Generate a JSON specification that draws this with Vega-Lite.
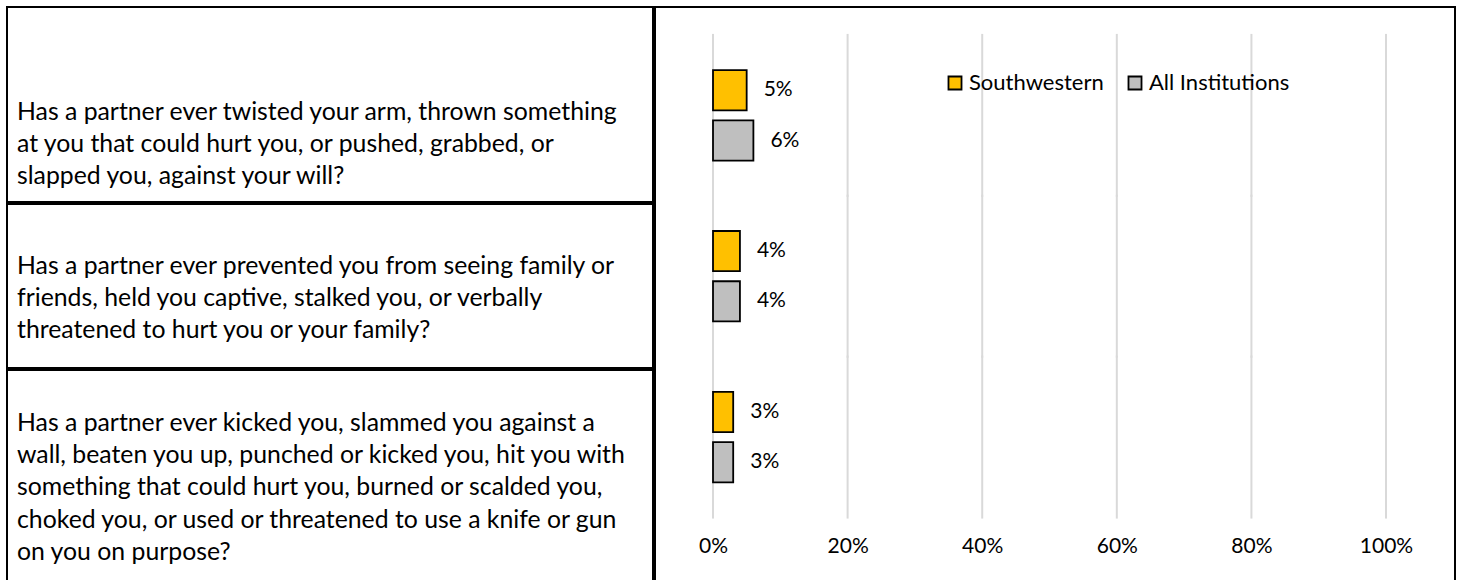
{
  "$schema": "https://vega.github.io/schema/vega-lite/v6.json",
  "padding": {"left": 6, "top": 6, "right": 9, "bottom": -6},
  "autosize": {"type": "pad"},
  "config": {
    "view": {"stroke": "#000000", "strokeWidth": 2},
    "font": "Lato",
    "text": {"font": "Lato", "color": "#000000"}
  },
  "datasets": {
    "questions": [
      {"id": 1, "lines": ["Has a partner ever twisted your arm, thrown something", "at you that could hurt you, or pushed, grabbed, or", "slapped you, against your will?"]},
      {"id": 2, "lines": ["Has a partner ever prevented you from seeing family or", "friends, held you captive, stalked you, or verbally", "threatened to hurt you or your family?"]},
      {"id": 3, "lines": ["Has a partner ever kicked you, slammed you against a", "wall, beaten you up, punched or kicked you, hit you with", "something that could hurt you, burned or scalded you,", "choked you, or used or threatened to use a knife or gun", "on you on purpose?"]}
    ],
    "results": [
      {"id": 1, "group": "Southwestern", "value": 0.05},
      {"id": 1, "group": "All Institutions", "value": 0.06},
      {"id": 2, "group": "Southwestern", "value": 0.04},
      {"id": 2, "group": "All Institutions", "value": 0.04},
      {"id": 3, "group": "Southwestern", "value": 0.03},
      {"id": 3, "group": "All Institutions", "value": 0.03}
    ],
    "gridlines": [
      {"id": 1, "tick": [0, 0.2, 0.4, 0.6, 0.8, 1]},
      {"id": 2, "tick": [0, 0.2, 0.4, 0.6, 0.8, 1]},
      {"id": 3, "tick": [0, 0.2, 0.4, 0.6, 0.8, 1]}
    ]
  },
  "spacing": 0,
  "hconcat": [
    {
      "spacing": 0,
      "vconcat": [
        {
          "width": 646, "height": 195,
          "data": {"name": "questions"},
          "transform": [{"filter": "datum.id == 1"}],
          "layer": [
            {"mark": {"type": "rect", "fill": null, "stroke": "#000000", "strokeWidth": 2}, "encoding": {}},
            {
              "mark": {"type": "text", "align": "left", "baseline": "middle", "fontSize": 24.8, "lineHeight": 32.2, "dx": -313, "dy": 8.5},
              "encoding": {"text": {"field": "lines", "type": "nominal"}}
            }
          ]
        },
        {
          "width": 646, "height": 164,
          "data": {"name": "questions"},
          "transform": [{"filter": "datum.id == 2"}],
          "layer": [
            {"mark": {"type": "rect", "fill": null, "stroke": "#000000", "strokeWidth": 2}, "encoding": {}},
            {
              "mark": {"type": "text", "align": "left", "baseline": "middle", "fontSize": 24.8, "lineHeight": 32.2, "dx": -313, "dy": -19},
              "encoding": {"text": {"field": "lines", "type": "nominal"}}
            }
          ]
        },
        {
          "width": 646, "height": 220,
          "data": {"name": "questions"},
          "transform": [{"filter": "datum.id == 3"}],
          "layer": [
            {"mark": {"type": "rect", "fill": null, "stroke": "#000000", "strokeWidth": 2}, "encoding": {}},
            {
              "mark": {"type": "text", "align": "left", "baseline": "middle", "fontSize": 24.8, "lineHeight": 32.2, "dx": -313, "dy": -56},
              "encoding": {"text": {"field": "lines", "type": "nominal"}}
            }
          ]
        }
      ]
    },
    {
      "width": 800, "height": 579,
      "encoding": {
        "y": {
          "field": "id", "type": "ordinal", "axis": null,
          "scale": {"paddingInner": 0, "paddingOuter": 0.3, "align": 0.29}
        }
      },
      "layer": [
        {
          "data": {"name": "gridlines"},
          "transform": [{"flatten": ["tick"]}],
          "mark": {"type": "tick", "color": "#d9d9d9", "thickness": 2, "size": 163, "opacity": 1},
          "encoding": {
            "x": {
              "field": "tick", "type": "quantitative",
              "scale": {"domain": [-0.0862, 1.1025], "nice": false, "zero": false},
              "axis": {
                "orient": "bottom", "values": [0, 0.2, 0.4, 0.6, 0.8, 1], "format": ".0%",
                "grid": false, "domain": false, "ticks": false, "title": null,
                "offset": -40, "labelPadding": 0, "labelBaseline": "middle",
                "labelFont": "Lato", "labelFontSize": 21, "labelColor": "#000000"
              }
            }
          }
        },
        {
          "data": {"name": "results"},
          "mark": {"type": "bar", "stroke": "#000000", "strokeWidth": 1.8},
          "encoding": {
            "x": {"field": "value", "type": "quantitative"},
            "yOffset": {
              "field": "group", "type": "nominal",
              "scale": {"domain": ["Southwestern", "All Institutions"], "paddingInner": 0.2, "paddingOuter": 0.7}
            },
            "color": {
              "field": "group", "type": "nominal",
              "scale": {"domain": ["Southwestern", "All Institutions"], "range": ["#FFC000", "#BFBFBF"]},
              "legend": {
                "title": null, "orient": "none", "direction": "horizontal",
                "legendX": 937, "legendY": 65,
                "symbolType": "square", "symbolSize": 170,
                "symbolStrokeColor": "#000000", "symbolStrokeWidth": 1.8,
                "symbolOpacity": 1,
                "labelFont": "Lato", "labelFontSize": 22, "labelColor": "#000000",
                "labelOffset": 3, "columnPadding": 20
              }
            }
          }
        },
        {
          "data": {"name": "results"},
          "mark": {"type": "text", "align": "left", "baseline": "middle", "dx": 17, "fontSize": 21},
          "encoding": {
            "x": {"field": "value", "type": "quantitative"},
            "yOffset": {"field": "group", "type": "nominal", "scale": {"domain": ["Southwestern", "All Institutions"]}},
            "text": {"field": "value", "type": "quantitative", "format": ".0%"}
          }
        }
      ]
    }
  ]
}
